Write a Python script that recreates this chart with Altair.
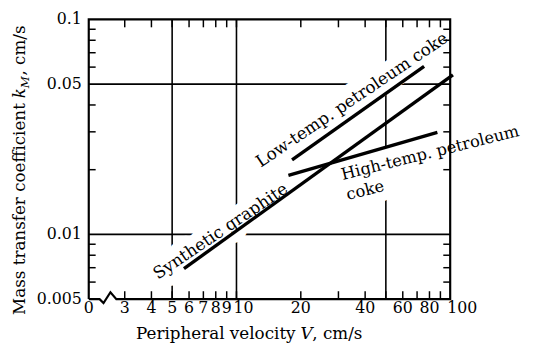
import altair as alt
import pandas as pd

# ---------------- data ----------------
series_names = ["Synthetic graphite", "Low-temp. petroleum coke", "High-temp. petroleum coke"]
syn_x = [5.68, 103.0]
syn_y = [0.00693, 0.0552]
low_x = [18.2, 75.5]
low_y = [0.0222, 0.0605]
high_x = [17.5, 87.1]
high_y = [0.0188, 0.0298]

x_domain = [2.036, 100]
y_domain = [0.005, 0.1]
x_label_values = [2.036, 3, 4, 5, 6, 7, 8, 9, 10, 20, 40, 60, 80, 100]
x_label_texts = ["0", "3", "4", "5", "6", "7", "8", "9", "10", "20", "40", "60", "80", "100"]
y_label_values = [0.005, 0.01, 0.05, 0.1]
y_label_texts = ["0.005", "0.01", "0.05", "0.1"]
x_minor_ticks = [3, 4, 5, 6, 7, 8, 9, 10, 20, 30, 40, 50, 60, 70, 80, 90]
y_minor_ticks = [0.006, 0.007, 0.008, 0.009, 0.02, 0.03, 0.04, 0.06, 0.07, 0.08, 0.09]
x_grid = [5, 10, 50]
y_grid = [0.01, 0.05]
# plot frame with the axis-break zigzag near the origin (data units)
frame_x = [2.036, 2.288, 2.387, 2.572, 2.741, 100, 100, 2.036, 2.036]
frame_y = [0.005, 0.005, 0.004794, 0.005384, 0.005, 0.005, 0.1, 0.1, 0.005]

label_syn = ("Synthetic graphite", 8.7, 0.00987)
label_low = ("Low-temp. petroleum coke", 35.8, 0.0403)
label_high = ("High-temp. petroleum\ncoke", 31.46, 0.01792)

FONT = "DejaVu Serif"
W, H = 367, 284

xs = alt.Scale(type="log", domain=x_domain, nice=False, zero=False)
ys = alt.Scale(type="log", domain=y_domain, nice=False, zero=False)


def X(field):
    return alt.X(field, scale=xs, axis=None)


def Y(field):
    return alt.Y(field, scale=ys, axis=None)


# ---------------- layers ----------------
grid_x = alt.Chart(pd.DataFrame({"v": x_grid})).mark_rule(color="black", strokeWidth=1.6).encode(x=X("v:Q"))
grid_y = alt.Chart(pd.DataFrame({"v": y_grid})).mark_rule(color="black", strokeWidth=1.6).encode(y=Y("v:Q"))


def text_layer(lbl, angle, align, halo, size=17):
    txt, xv, yv = lbl
    df = pd.DataFrame({"x": [xv], "y": [yv], "t": [txt]})
    kw = dict(angle=angle, align=align, baseline="alphabetic", font=FONT, fontSize=size,
              lineBreak="\n", lineHeight=21)
    if halo:
        kw.update(fill="white", stroke="white", strokeWidth=20, strokeJoin="round")
    else:
        kw.update(color="black")
    return alt.Chart(df).mark_text(**kw).encode(x=X("x:Q"), y=Y("y:Q"), text="t:N")


halos = [
    text_layer(label_syn, 326, "center", True),
    text_layer(label_low, 326, "center", True),
    text_layer(label_high, 346, "left", True, 16.5),
]
texts = [
    text_layer(label_syn, 326, "center", False),
    text_layer(label_low, 326, "center", False),
    text_layer(label_high, 346, "left", False, 16.5),
]

frame_df = pd.DataFrame({"x": frame_x, "y": frame_y, "o": list(range(len(frame_x)))})
frame = alt.Chart(frame_df).mark_line(color="black", strokeWidth=2.2, strokeJoin="miter", clip=False).encode(
    x=X("x:Q"), y=Y("y:Q"), order="o:Q"
)

xt = pd.DataFrame({"v": x_minor_ticks})
yt = pd.DataFrame({"v": y_minor_ticks})
tick_bottom = alt.Chart(xt).mark_rule(color="black", strokeWidth=1.5).encode(
    x=X("v:Q"), y=alt.value(H), y2=alt.value(H - 8))
tick_top = alt.Chart(xt).mark_rule(color="black", strokeWidth=1.5).encode(
    x=X("v:Q"), y=alt.value(0), y2=alt.value(8))
tick_left = alt.Chart(yt).mark_rule(color="black", strokeWidth=1.5).encode(
    y=Y("v:Q"), x=alt.value(0), x2=alt.value(7))
tick_right = alt.Chart(yt).mark_rule(color="black", strokeWidth=1.5).encode(
    y=Y("v:Q"), x=alt.value(W), x2=alt.value(W - 7))

lines_df = pd.concat([
    pd.DataFrame({"x": syn_x, "y": syn_y, "s": series_names[0]}),
    pd.DataFrame({"x": low_x, "y": low_y, "s": series_names[1]}),
    pd.DataFrame({"x": high_x, "y": high_y, "s": series_names[2]}),
])
lines = alt.Chart(lines_df).mark_line(color="black", strokeWidth=3.4, clip=False).encode(
    x=X("x:Q"), y=Y("y:Q"), detail="s:N"
)

# ---- tick labels (drawn as text through the scales) ----
xl_df = pd.DataFrame({"v": x_label_values, "t": x_label_texts})
x_labels_c = alt.Chart(xl_df).transform_filter("datum.v != 10 && datum.v != 100").mark_text(
    align="center", baseline="top", font=FONT, fontSize=16, color="black"
).encode(x=X("v:Q"), y=alt.value(H + 1), text="t:N")
x_labels_l = alt.Chart(xl_df).transform_filter("datum.v == 10 || datum.v == 100").mark_text(
    align="left", baseline="top", font=FONT, fontSize=16, color="black", dx=-3
).encode(x=X("v:Q"), y=alt.value(H + 1), text="t:N")
yl_df = pd.DataFrame({"v": y_label_values, "t": y_label_texts})
y_labels = alt.Chart(yl_df).mark_text(
    align="right", baseline="middle", font=FONT, fontSize=16, color="black"
).encode(y=Y("v:Q"), x=alt.value(-7), text="t:N")

# ---- axis titles ----
one = pd.DataFrame({"a": [0]})
xtitle_a = alt.Chart(one).mark_text(
    text="Peripheral velocity", align="right", baseline="alphabetic",
    font=FONT, fontSize=17, color="black").encode(x=alt.value(210), y=alt.value(324.5))
xtitle_v = alt.Chart(one).mark_text(
    text="V", align="left", baseline="alphabetic",
    font=FONT, fontSize=17, fontStyle="italic", color="black").encode(x=alt.value(215), y=alt.value(324.5))
xtitle_b = alt.Chart(one).mark_text(
    text=", cm/s", align="left", baseline="alphabetic",
    font=FONT, fontSize=17, color="black").encode(x=alt.value(227), y=alt.value(324.5))

ytitle_main = alt.Chart(one).mark_text(
    text="Mass transfer coefficient", angle=270, align="right", baseline="alphabetic",
    font=FONT, fontSize=17, color="black").encode(x=alt.value(-65), y=alt.value(85))
ytitle_k = alt.Chart(one).mark_text(
    text="k", angle=270, align="left", baseline="alphabetic",
    font=FONT, fontSize=17, fontStyle="italic", color="black").encode(x=alt.value(-65), y=alt.value(80))
ytitle_sub = alt.Chart(one).mark_text(
    text="M", angle=270, align="left", baseline="alphabetic",
    font=FONT, fontSize=12, fontStyle="italic", color="black").encode(x=alt.value(-61), y=alt.value(70))
ytitle_end = alt.Chart(one).mark_text(
    text=", cm/s", angle=270, align="left", baseline="alphabetic",
    font=FONT, fontSize=17, color="black").encode(x=alt.value(-65), y=alt.value(57))

chart = alt.layer(
    grid_x, grid_y, *halos, frame, tick_bottom, tick_top, tick_left, tick_right, lines, *texts,
    x_labels_c, x_labels_l, y_labels,
    xtitle_a, xtitle_v, xtitle_b, ytitle_main, ytitle_k, ytitle_sub, ytitle_end,
).properties(
    width=W,
    height=H,
    padding={"left": 82, "top": 9, "right": 78, "bottom": 44},
    autosize=alt.AutoSizeParams(type="none"),
    background="white",
).configure_view(stroke=None)

chart.save("out.html", embed_options={"renderer": "svg", "actions": False})
